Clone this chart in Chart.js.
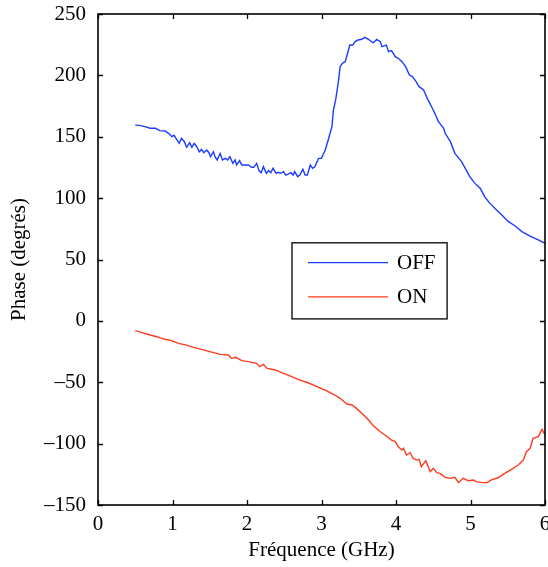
<!DOCTYPE html>
<html>
<head>
<meta charset="utf-8">
<script src="https://cdn.jsdelivr.net/npm/chart.js@4.4.0/dist/chart.umd.min.js"></script>
<style>
  html, body { margin: 0; padding: 0; background: #fff; }
  canvas { display: block; }
</style>
</head>
<body>
<canvas id="myChart" width="548" height="567"></canvas>
<script>
// courbe OFF
var offFreq = [
  0.50,0.56,0.63,0.70,0.77,0.83,0.90,0.96,0.99,1.02,
  1.06,1.09,1.12,1.16,1.19,1.23,1.26,1.29,1.32,1.36,
  1.39,1.42,1.46,1.49,1.51,1.55,1.57,1.60,1.64,1.67,
  1.71,1.74,1.77,1.81,1.84,1.86,1.90,1.93,1.97,2.02,
  2.06,2.09,2.13,2.16,2.19,2.22,2.26,2.29,2.32,2.35,
  2.39,2.42,2.45,2.49,2.52,2.56,2.59,2.62,2.64,2.68,
  2.71,2.75,2.78,2.81,2.85,2.88,2.91,2.96,3.00,3.05,
  3.09,3.14,3.16,3.19,3.23,3.25,3.28,3.32,3.35,3.38,
  3.42,3.45,3.49,3.54,3.58,3.63,3.67,3.70,3.74,3.79,
  3.81,3.87,3.90,3.94,3.99,4.03,4.08,4.13,4.18,4.22,
  4.27,4.31,4.37,4.43,4.50,4.57,4.64,4.66,4.73,4.79,
  4.88,4.93,4.99,5.06,5.13,5.19,5.26,5.35,5.42,5.51,
  5.60,5.69,5.80,5.91,6.00
]
var offPhase = [
  159.5,159.3,158.2,156.9,156.9,155.0,154.7,152.2,150.1,151.2,
  147.4,144.6,148.7,146.0,141.4,145.2,141.4,144.6,142.5,137.8,
  139.7,137.0,139.2,137.0,133.8,137.8,133.8,131.1,136.5,131.1,
  132.4,131.1,133.8,128.3,131.1,127.0,130.5,127.0,127.0,127.0,
  125.1,125.1,128.3,122.4,120.7,125.6,120.2,122.4,120.7,124.3,
  120.2,121.0,120.2,121.6,118.8,119.7,120.7,118.8,121.6,117.5,
  118.8,123.5,118.8,118.8,127.0,124.3,125.6,132.4,132.4,139.2,
  147.3,158.2,171.8,180.0,196.2,207.1,209.8,211.2,218.0,224.7,
  224.7,227.5,228.8,229.4,231.0,229.4,227.5,226.6,229.4,227.5,
  223.4,224.7,219.3,220.1,215.2,213.9,211.2,207.1,200.3,199.0,
  194.9,190.8,188.1,180.0,171.8,162.3,156.9,152.8,146.0,136.5,
  129.7,124.3,117.5,112.0,108.0,101.2,95.7,90.3,86.2,80.8,
  77.3,72.7,69.1,65.9,63.2
]

// courbe ON
var onFreq = [
  0.50,0.59,0.70,0.79,0.88,0.99,1.08,1.19,1.28,1.39,
  1.50,1.64,1.75,1.79,1.85,1.93,2.02,2.13,2.17,2.22,
  2.27,2.38,2.49,2.60,2.71,2.82,2.94,3.07,3.18,3.25,
  3.34,3.41,3.47,3.54,3.61,3.70,3.79,3.87,3.94,3.99,
  4.03,4.08,4.10,4.14,4.19,4.23,4.28,4.31,4.34,4.40,
  4.46,4.50,4.55,4.59,4.66,4.72,4.79,4.84,4.90,4.97,
  5.04,5.08,5.15,5.22,5.28,5.37,5.46,5.55,5.64,5.71,
  5.75,5.80,5.84,5.91,5.96,6.00
]
var onPhase = [
  -8.0,-9.6,-11.5,-12.9,-14.8,-16.1,-18.3,-19.7,-21.6,-23.2,
  -25.1,-27.3,-27.8,-30.5,-29.7,-32.4,-33.2,-34.6,-37.3,-35.4,
  -38.7,-40.0,-42.7,-45.5,-48.2,-50.4,-53.6,-57.1,-60.4,-63.1,
  -67.7,-68.5,-71.3,-75.3,-79.4,-85.6,-90.3,-93.8,-97.1,-98.4,
  -102.5,-105.2,-103.8,-109.3,-107.4,-112.0,-113.4,-112.8,-118.8,-113.9,
  -122.9,-120.1,-123.7,-124.2,-127.5,-128.3,-127.5,-131.8,-128.3,-130.2,
  -129.6,-131.0,-131.8,-131.8,-129.6,-127.8,-124.2,-121.0,-117.4,-113.4,
  -106.6,-103.8,-95.7,-94.3,-88.4,-93.0
]

var xTicks = [0,1,2,3,4,5,6]
var yTicks = [-150,-100,-50,0,50,100,150,200,250]
var seriesLabels = ["OFF","ON"]
var xTitle = "Fréquence (GHz)"
var yTitle = "Phase (degrés)"

var FONT = "'Liberation Serif', 'DejaVu Serif', serif"
var colors = ["#1a3cff","#ff3b1f"]

function toPoints(xs, ys){
    return xs.map(function(x,i){ return {x:x, y:ys[i]} })
}

// cadre, graduations vers l'intérieur et légende
var boxPlugin = {
    id:"matlabBox",
    afterDraw:function(chart){
        var ctx = chart.ctx
        var a = chart.chartArea
        var xs = chart.scales.x, ys = chart.scales.y
        var tl = 5
        ctx.save()
        ctx.strokeStyle = "#000"
        ctx.lineWidth = 1.3
        ctx.beginPath()
        xTicks.forEach(function(t){
            var px = Math.round(xs.getPixelForValue(t)) + 0.5
            ctx.moveTo(px, a.bottom); ctx.lineTo(px, a.bottom - tl)
            ctx.moveTo(px, a.top); ctx.lineTo(px, a.top + tl)
        })
        yTicks.forEach(function(t){
            var py = Math.round(ys.getPixelForValue(t)) + 0.5
            ctx.moveTo(a.left, py); ctx.lineTo(a.left + tl, py)
            ctx.moveTo(a.right, py); ctx.lineTo(a.right - tl, py)
        })
        ctx.stroke()
        ctx.lineWidth = 1.6
        ctx.strokeRect(a.left, a.top, a.right - a.left, a.bottom - a.top)

        // légende
        var w = a.right - a.left, h = a.bottom - a.top
        var lx = a.left + 0.434*w, rx = a.left + 0.781*w
        var ty = a.top + 0.466*h, by = a.top + 0.621*h
        ctx.fillStyle = "#fff"
        ctx.fillRect(lx, ty, rx - lx, by - ty)
        ctx.lineWidth = 1.3
        ctx.strokeRect(lx, ty, rx - lx, by - ty)
        var rows = [ty + 0.26*(by-ty), ty + 0.71*(by-ty)]
        ctx.font = "21px " + FONT
        ctx.textBaseline = "middle"
        ctx.textAlign = "left"
        seriesLabels.forEach(function(lab,i){
            ctx.strokeStyle = colors[i]
            ctx.lineWidth = 1.4
            ctx.beginPath()
            ctx.moveTo(lx + 16, rows[i]); ctx.lineTo(lx + 96, rows[i])
            ctx.stroke()
            ctx.fillStyle = "#000"
            ctx.fillText(lab, lx + 105, rows[i] + 1)
        })
        ctx.restore()
    }
}

var ctx = document.getElementById("myChart").getContext("2d")
var chart = new Chart(ctx, {
    type:"line",
    data:{
        datasets:[
            {label:seriesLabels[0], data:toPoints(offFreq, offPhase), borderColor:colors[0], borderWidth:1.4, pointRadius:0, tension:0, fill:false},
            {label:seriesLabels[1], data:toPoints(onFreq, onPhase), borderColor:colors[1], borderWidth:1.4, pointRadius:0, tension:0, fill:false}
        ]
    },
    options:{
        responsive:false,
        animation:false,
        layout:{padding:{top:14, right:3, left:0, bottom:0}},
        plugins:{legend:{display:false}, tooltip:{enabled:false}},
        scales:{
            x:{
                type:"linear", min:0, max:6,
                afterBuildTicks:function(s){ s.ticks = xTicks.map(function(v){return {value:v}}) },
                ticks:{padding:7, color:"#000", maxRotation:0, font:{family:FONT, size:21}},
                grid:{display:false, drawTicks:false},
                border:{display:false},
                title:{display:true, text:xTitle, color:"#000", font:{family:FONT, size:21}, padding:{top:0, bottom:4}},
                afterFit:function(s){ s.height = 62; s.paddingLeft = 0; s.paddingRight = 0 }
            },
            y:{
                type:"linear", min:-150, max:250,
                afterBuildTicks:function(s){ s.ticks = yTicks.map(function(v){return {value:v}}) },
                ticks:{
                    padding:12, color:"#000", font:{family:FONT, size:21},
                    callback:function(v){ return v < 0 ? "\u2013" + (-v) : String(v) }
                },
                grid:{display:false, drawTicks:false},
                border:{display:false},
                title:{display:true, text:yTitle, color:"#000", font:{family:FONT, size:21}, padding:{top:7, bottom:0}},
                afterFit:function(s){ s.width = 98; s.paddingTop = 0; s.paddingBottom = 0 }
            }
        }
    },
    plugins:[boxPlugin]
})
</script>
</body>
</html>
